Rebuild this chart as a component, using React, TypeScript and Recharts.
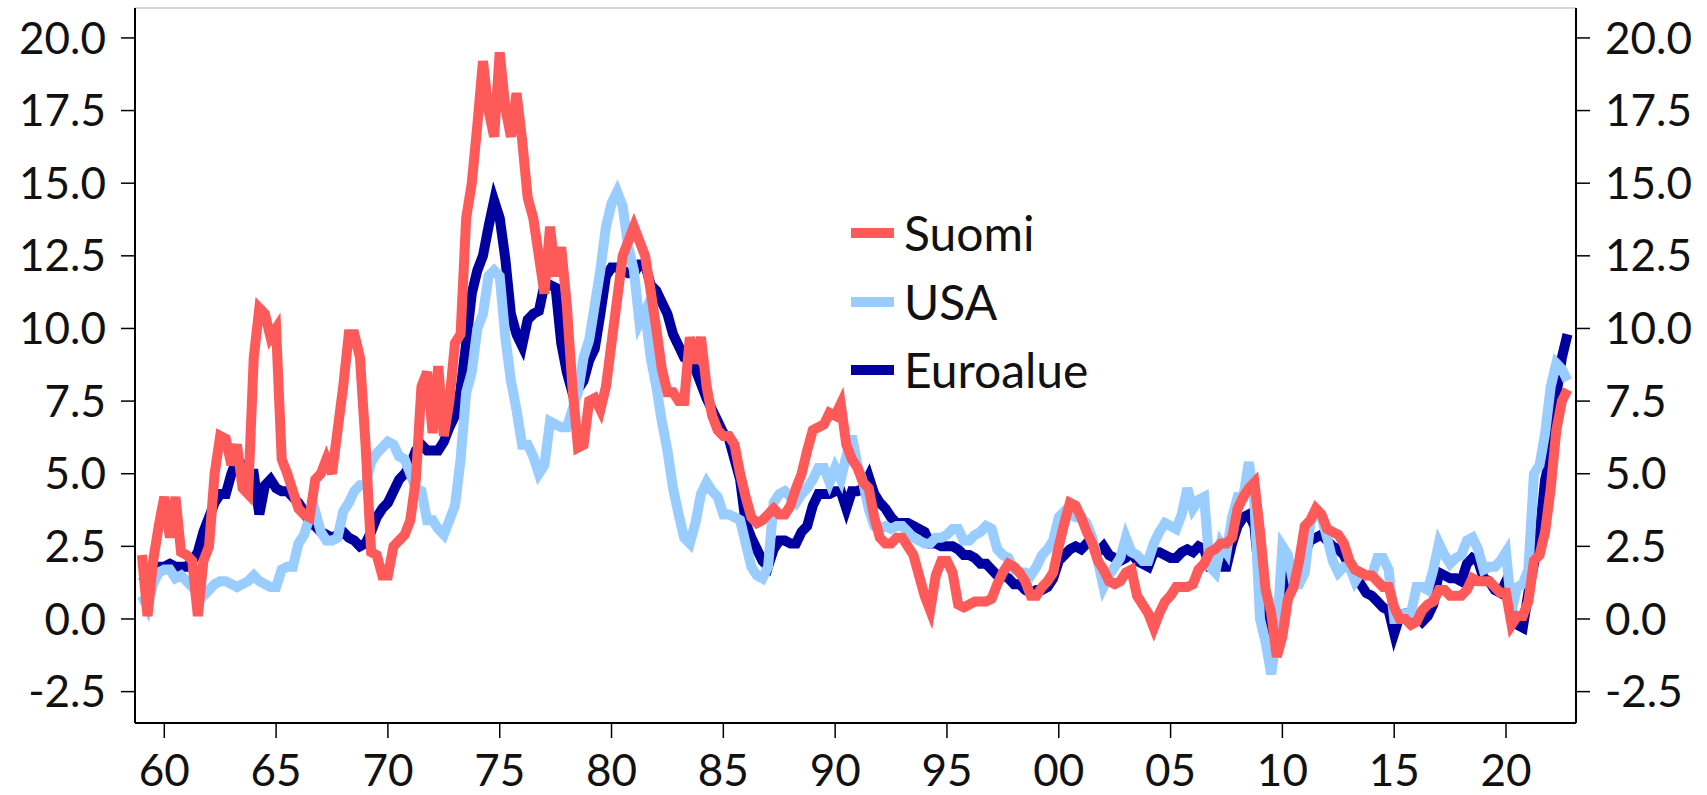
import React from 'react';
import { LineChart, Line, XAxis, YAxis, CartesianGrid } from 'recharts';

// quarterly readings, 1959 Q1 .. 2022 Q4 (year-on-year inflation, %)
const startYear = 1959;

const suomi = [
  2.2, 0.1, 2.0, 3.2, // 1959
  4.2, 2.8, 4.2, 2.3,
  2.2, 2.0, 0.1, 2.0,
  2.5, 5.0, 6.3, 6.2,
  5.3, 6.0, 4.5, 4.3,
  9.0, 10.7, 10.5, 9.7, // 1964
  10.0, 5.5, 5.0, 4.4,
  3.8, 3.6, 3.5, 4.8,
  5.0, 5.5, 5.0, 6.5,
  8.0, 9.8, 9.8, 9.0,
  6.0, 2.3, 2.2, 1.5, // 1969
  1.5, 2.5, 2.7, 2.9,
  3.4, 4.8, 8.0, 8.5,
  6.4, 8.7, 6.3, 7.5,
  9.5, 9.8, 13.8, 15.0,
  17.0, 19.2, 17.5, 16.6, // 1974
  19.5, 17.6, 16.6, 18.1,
  16.5, 14.5, 13.8, 12.5,
  11.2, 13.5, 11.8, 12.8,
  10.8, 8.0, 5.9, 6.0,
  7.5, 7.6, 7.2, 8.0, // 1979
  9.5, 11.0, 12.5, 13.0,
  13.5, 13.0, 12.5, 11.3,
  10.0, 8.6, 7.8, 7.8,
  7.5, 7.5, 9.7, 8.8,
  9.7, 8.0, 7.0, 6.5, // 1984
  6.3, 6.3, 6.0, 5.0,
  4.2, 3.5, 3.3, 3.4,
  3.6, 3.8, 3.6, 3.6,
  3.9, 4.5, 5.0, 5.8,
  6.5, 6.6, 6.7, 7.1, // 1989
  7.0, 7.4, 6.0, 5.5,
  5.2, 4.7, 4.5, 3.5,
  2.8, 2.6, 2.6, 2.8,
  2.8, 2.5, 2.2, 1.5,
  0.8, 0.3, 1.5, 2.0, // 1994
  2.0, 1.6, 0.5, 0.4,
  0.5, 0.6, 0.6, 0.6,
  0.7, 1.2, 1.6, 1.9,
  1.8, 1.6, 1.3, 0.8,
  0.8, 1.1, 1.3, 1.6, // 1999
  2.5, 3.3, 4.0, 3.9,
  3.5, 3.0, 2.6, 2.0,
  1.7, 1.3, 1.2, 1.3,
  1.6, 1.7, 0.8, 0.5,
  0.2, -0.3, 0.2, 0.6, // 2004
  0.8, 1.1, 1.1, 1.1,
  1.2, 1.7, 1.9, 2.3,
  2.4, 2.6, 2.6, 2.8,
  3.8, 4.2, 4.5, 4.7,
  3.0, 1.0, 0.2, -1.3, // 2009
  -0.6, 0.7, 1.1, 2.0,
  3.2, 3.4, 3.8, 3.6,
  3.1, 3.0, 2.9, 2.6,
  2.0, 1.7, 1.6, 1.5,
  1.5, 1.3, 1.1, 1.1, // 2014
  0.4, 0.0, 0.0, -0.2,
  -0.1, 0.3, 0.5, 0.6,
  1.0, 1.0, 0.8, 0.8,
  0.8, 1.0, 1.4, 1.3,
  1.3, 1.3, 1.1, 0.9, // 2019
  0.9, -0.2, 0.1, 0.1,
  0.6, 2.0, 2.2, 3.0,
  4.5, 6.5, 7.5, 7.9,
];

const usa = [
  0.8, 0.4, 1.2, 1.6, // 1959
  1.7, 1.7, 1.4, 1.5,
  1.3, 1.1, 1.2, 0.8,
  1.0, 1.2, 1.3, 1.3,
  1.2, 1.1, 1.2, 1.3,
  1.5, 1.3, 1.2, 1.1, // 1964
  1.1, 1.7, 1.8, 1.8,
  2.6, 2.9, 3.5, 3.7,
  3.0, 2.7, 2.7, 2.8,
  3.7, 4.0, 4.4, 4.6,
  4.6, 5.4, 5.7, 5.9, // 1969
  6.1, 6.0, 5.6, 5.5,
  5.0, 4.5, 4.4, 3.4,
  3.4, 3.1, 2.9, 3.4,
  3.9, 5.5, 7.8, 8.5,
  10.0, 10.5, 11.8, 12.0, // 1974
  11.8, 9.7, 8.2, 7.2,
  6.0, 6.0, 5.6, 5.0,
  5.3, 6.8, 6.7, 6.6,
  6.6, 7.2, 7.8, 9.0,
  9.6, 10.8, 12.0, 13.5, // 1979
  14.3, 14.7, 14.2, 12.8,
  12.0, 10.2, 10.6, 9.0,
  8.0, 6.8, 5.8, 4.5,
  3.6, 2.8, 2.6, 3.3,
  4.3, 4.7, 4.4, 4.2, // 1984
  3.6, 3.6, 3.5, 3.4,
  2.6, 1.8, 1.5, 1.4,
  1.8, 4.0, 4.3, 4.4,
  4.2, 4.0, 4.3, 4.5,
  4.8, 5.2, 5.2, 4.7, // 1989
  5.2, 4.8, 5.6, 6.3,
  5.3, 4.7, 3.8, 3.2,
  3.1, 3.2, 3.1, 3.2,
  3.2, 3.0, 2.8, 2.7,
  2.6, 2.6, 2.8, 2.8, // 1994
  2.9, 3.1, 3.1, 2.7,
  2.7, 2.9, 3.0, 3.2,
  3.1, 2.4, 2.2, 2.1,
  1.7, 1.6, 1.6, 1.5,
  1.8, 2.2, 2.4, 2.7, // 1999
  3.5, 3.7, 3.6, 3.5,
  3.5, 3.3, 2.8, 2.0,
  1.1, 1.5, 1.8, 2.1,
  2.8, 2.3, 2.2, 2.0,
  2.0, 2.6, 3.0, 3.3, // 2004
  3.2, 3.1, 3.6, 4.5,
  3.8, 4.1, 4.2, 1.8,
  1.6, 2.6, 2.3, 3.5,
  4.2, 4.2, 5.4, 4.0,
  0.0, -0.8, -1.9, -0.5, // 2009
  2.5, 2.2, 1.2, 1.2,
  1.6, 3.3, 3.7, 3.5,
  2.8, 2.0, 1.6, 1.8,
  1.8, 1.3, 1.6, 1.5,
  1.5, 2.1, 2.1, 1.7, // 2014
  0.0, 0.0, 0.2, 0.2,
  1.1, 1.1, 1.0, 1.7,
  2.6, 2.2, 1.9, 2.1,
  2.2, 2.7, 2.8, 2.4,
  1.7, 1.8, 1.8, 2.0, // 2019
  2.3, 0.3, 1.1, 1.2,
  1.7, 5.0, 5.3, 6.4,
  8.0, 8.8, 8.6, 8.2,
];

const euroalue = [
  1.5, 1.3, 1.6, 1.8, // 1959
  1.8, 1.9, 1.8, 1.8,
  1.8, 2.0, 2.3, 3.0,
  3.5, 4.0, 4.3, 4.3,
  5.0, 5.5, 5.3, 5.0,
  5.0, 3.6, 4.6, 4.8, // 1964
  4.5, 4.4, 4.4, 4.2,
  4.0, 3.7, 3.3, 3.2,
  3.0, 2.9, 2.8, 2.9,
  3.0, 2.8, 2.7, 2.5,
  2.6, 3.0, 3.5, 3.8, // 1969
  4.0, 4.4, 4.8, 5.0,
  5.3, 5.8, 6.0, 5.8,
  5.8, 5.8, 6.1, 6.6,
  7.0, 7.9, 9.5, 11.2,
  12.0, 12.5, 13.5, 14.4, // 1974
  13.8, 12.4, 10.5, 9.8,
  9.4, 10.3, 10.5, 10.6,
  11.5, 11.5, 11.4, 9.5,
  8.5, 7.8, 7.9, 8.2,
  8.9, 9.3, 10.5, 11.8, // 1979
  12.1, 12.1, 12.0, 11.9,
  11.9, 12.2, 12.2, 11.5,
  11.3, 10.9, 10.5, 9.8,
  9.4, 9.0, 8.9, 8.6,
  8.1, 7.6, 7.2, 6.8, // 1984
  6.4, 6.2, 5.5, 4.8,
  3.3, 2.8, 2.4, 2.0,
  1.8, 2.4, 2.7, 2.7,
  2.6, 2.6, 3.0, 3.2,
  3.9, 4.3, 4.3, 4.3, // 1989
  4.4, 4.4, 3.8, 4.4,
  4.4, 4.5, 4.9, 4.3,
  4.0, 3.8, 3.5, 3.3,
  3.3, 3.3, 3.2, 3.1,
  3.0, 2.6, 2.6, 2.5, // 1994
  2.5, 2.5, 2.4, 2.2,
  2.2, 2.1, 1.9, 1.9,
  1.7, 1.5, 1.5, 1.4,
  1.2, 1.2, 1.0, 0.9,
  1.0, 1.0, 1.1, 1.4, // 1999
  2.0, 2.2, 2.4, 2.5,
  2.4, 2.6, 2.6, 2.3,
  2.5, 2.2, 2.1, 2.0,
  2.1, 2.3, 2.0, 1.9,
  1.8, 2.3, 2.3, 2.2, // 2004
  2.1, 2.1, 2.3, 2.4,
  2.3, 2.5, 2.4, 1.8,
  1.8, 1.8, 1.8, 2.6,
  3.2, 3.5, 3.6, 3.2,
  1.2, 0.6, -0.3, -0.1, // 2009
  1.0, 1.6, 1.6, 1.9,
  2.3, 2.7, 2.8, 2.9,
  2.7, 2.5, 2.4, 2.2,
  1.8, 1.5, 1.2, 0.9,
  0.8, 0.6, 0.4, 0.3, // 2014
  -0.5, 0.1, 0.2, 0.2,
  0.1, -0.1, 0.1, 0.5,
  1.6, 1.5, 1.4, 1.4,
  1.3, 1.9, 2.1, 2.0,
  1.4, 1.3, 1.0, 0.9, // 2019
  1.3, 0.3, -0.2, -0.3,
  0.9, 1.9, 2.9, 4.8,
  5.6, 7.7, 9.0, 9.8,
];

const yTicks = [-2.5, 0, 2.5, 5, 7.5, 10, 12.5, 15, 17.5, 20];
const xTicks = [1960, 1965, 1970, 1975, 1980, 1985, 1990, 1995, 2000, 2005, 2010, 2015, 2020];

const seriesInfo = [
  { key: 'suomi', name: 'Suomi', color: '#FF5A5A' },
  { key: 'usa', name: 'USA', color: '#99CCFF' },
  { key: 'euro', name: 'Euroalue', color: '#0000A0' },
];

const data = suomi.map((v, i) => ({
  t: startYear + i / 4,
  suomi: v,
  usa: usa[i],
  euro: euroalue[i],
}));

const FONT = 'Lato, "Open Sans", sans-serif';
const tickStyle = { fontSize: 44, fill: '#111', fontFamily: FONT };

// legend drawn as an overlay so it takes no room from the plot
const LegendBox = () => (
  <div style={{ position: 'absolute', left: 851, top: 199, fontFamily: FONT }}>
    {seriesInfo.map((s) => (
      <div key={s.key} style={{ display: 'flex', alignItems: 'center', height: 68.4 }}>
        <span style={{ display: 'inline-block', width: 43, height: 10, background: s.color, marginRight: 10 }} />
        <span style={{ fontSize: 48, color: '#111', lineHeight: '68px' }}>{s.name}</span>
      </div>
    ))}
  </div>
);

export default function App() {
  return (
    <div style={{ position: 'absolute', left: 0, top: 0, width: 1707, height: 795 }}>
      <LineChart width={1707} height={795} data={data} margin={{ top: 8, right: 0, bottom: 0, left: 0 }}>
        <CartesianGrid vertical={false} stroke="#c8c8c8" strokeWidth={1.5} />
        <XAxis
          dataKey="t"
          type="number"
          domain={[1958.69, 2023.13]}
          ticks={xTicks}
          interval={0}
          allowDataOverflow
          height={72}
          tickSize={15}
          tickMargin={17}
          tick={tickStyle}
          tickFormatter={(v: number) => String(v % 100).padStart(2, '0')}
          axisLine={{ stroke: '#000', strokeWidth: 2 }}
          tickLine={{ stroke: '#000', strokeWidth: 1.5 }}
        />
        <YAxis
          yAxisId="left"
          orientation="left"
          width={135}
          domain={[-3.58, 21.03]}
          ticks={yTicks}
          interval={0}
          allowDataOverflow
          tickSize={14}
          tickMargin={15}
          tick={tickStyle}
          tickFormatter={(v: number) => v.toFixed(1)}
          axisLine={{ stroke: '#000', strokeWidth: 2 }}
          tickLine={{ stroke: '#000', strokeWidth: 1.5 }}
        />
        <YAxis
          yAxisId="right"
          orientation="right"
          width={131}
          domain={[-3.58, 21.03]}
          ticks={yTicks}
          interval={0}
          allowDataOverflow
          tickSize={14}
          tickMargin={15}
          tick={tickStyle}
          tickFormatter={(v: number) => v.toFixed(1)}
          axisLine={{ stroke: '#000', strokeWidth: 2 }}
          tickLine={{ stroke: '#000', strokeWidth: 1.5 }}
        />
        <Line yAxisId="left" type="linear" dataKey="euro" name="Euroalue" stroke="#0000A0" strokeWidth={10} dot={false} isAnimationActive={false} />
        <Line yAxisId="left" type="linear" dataKey="usa" name="USA" stroke="#99CCFF" strokeWidth={10} dot={false} isAnimationActive={false} />
        <Line yAxisId="left" type="linear" dataKey="suomi" name="Suomi" stroke="#FF5A5A" strokeWidth={10} dot={false} isAnimationActive={false} />
      </LineChart>
      <LegendBox />
    </div>
  );
}
